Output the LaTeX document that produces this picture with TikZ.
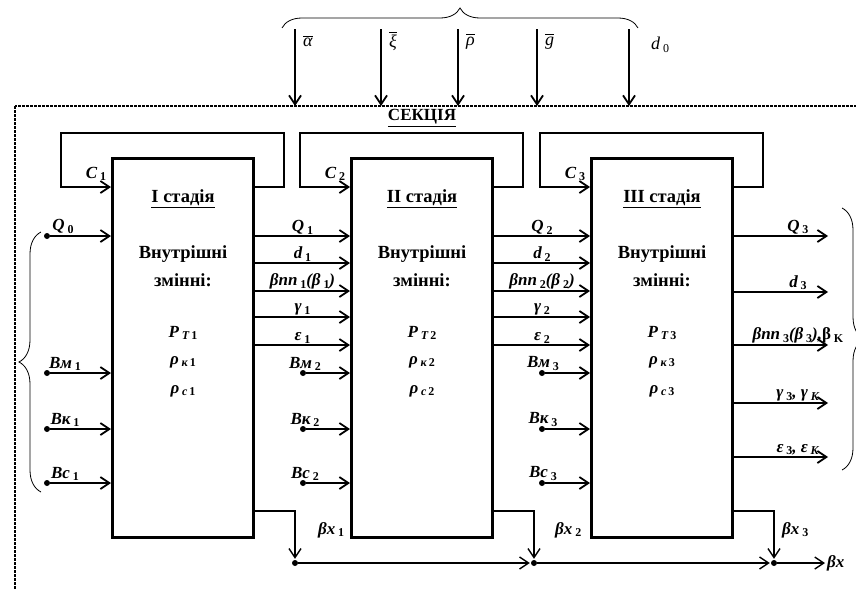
\documentclass[tikz,border=0pt]{standalone}
\usepackage{fontspec}
\setmainfont{Liberation Serif}
\usepackage{amsmath}
\usetikzlibrary{arrows.meta,calc,decorations.pathreplacing}

% small lowered index as in the figure
\newcommand{\lo}[1]{\,\raisebox{-0.35ex}{\fontsize{12}{12}\selectfont\upshape #1}}

\begin{document}
\begin{tikzpicture}
	[x=1pt,y=-1pt,
	 >={Straight Barb[length=9pt,width=12pt]},
	 stage/.style={draw,line width=3pt,minimum width=141pt,minimum height=379pt,inner sep=0pt},
	 conn/.style={->,line width=1.8pt},
	 fb/.style={->,line width=1.8pt},
	 outx/.style={->,line width=1.4pt,shorten >=1pt},
	 lab/.style={font=\fontsize{17}{17}\selectfont\bfseries\itshape,inner sep=1pt},
	 intext/.style={font=\fontsize{18.5}{28}\selectfont\bfseries,align=center},
	 toplab/.style={font=\fontsize{18}{18}\selectfont,anchor=west,inner sep=0pt},
	 brace/.style={decorate,decoration={brace,amplitude=#1},line width=0.8pt},
	 sect/.style={dash pattern=on 3pt off 1pt,line width=1.3pt},
	 junction/.style={circle,fill,inner sep=0pt,minimum size=6pt}]
	\useasboundingbox (0,0) rectangle (856,589);
	\clip (0,0) rectangle (856,589);

	% rows of the connectors
	\foreach \n/\y in {C/187,Q/236,d/263,b/291,g/317,e/345,m/373,k/429,c/483,x/511,s/563}
		\coordinate (r\n) at (0,\y);
	\coordinate (secTL) at (15,106);

	%
	% section frame and external inputs
	%
	\draw[sect] (secTL) rectangle (900,650);
	\node[intext,font=\fontsize{17}{17}\selectfont\bfseries] (sec) at (422,118) {\underline{СЕКЦІЯ}};

	\draw[brace=20pt] (282,28) -- (638,28);
	\foreach \k/\x/\t in {1/295/{$\overline{\mbox{\itshape α}}$},2/381/{$\overline{\mbox{\itshape ξ}}$},
		3/458/{$\overline{\mbox{\itshape ρ}}$},4/537/{$\overline{\mbox{\itshape g}}$}}{
		\coordinate (in\k) at (\x,29);
		\draw[conn] (in\k) -- (in\k |- secTL);
		\node[toplab] at ($(in\k)+(8,12)$) {\t};
	}
	\coordinate (in5) at (629,29);
	\draw[conn] (in5) -- (in5 |- secTL);
	\node[toplab] at ($(in5)+(22,16)$) {\itshape d\lo{0}};

	%
	% stages
	%
	\foreach \i/\cx/\rn in {1/183/I,2/422/II,3/662/III}{
		\node[stage] (st\i) at (\cx,348) {};
		\node[intext] at (\cx,199) {\underline{\rn\ стадія}};
		\node[intext] at (\cx,266) {Внутрішні\\змінні:};
		\node[lab] at (\cx,333) {P\lo{\textit{T}\,\i}};
		\node[lab] at (\cx,362) {ρ\lo{\textit{к}\,\i}};
		\node[lab] at (\cx,391) {ρ\lo{\textit{c}\,\i}};
		% feedback loop
		\draw[fb] (st\i.east |- rC) -- ++(29,0) -- ++(0,-54) -- ++(-223,0) -- ++(0,54) -- (st\i.west |- rC);
		\node[lab] at ($(st\i.west |- rC)+(-15,-13)$) {C\lo{\i}};
	}

	% inputs fed into every stage
	\node[junction] (q0) at ($(47,0)+(rQ)$) {};
	\draw[conn] (q0) -- (st1.west |- q0);
	\node[lab,above] at ($(q0)+(16,-1)$) {Q\lo{0}};
	\foreach \i/\dx/\lx in {1/47/18,2/303/2,3/542/1}{
		\foreach \n/\t in {m/м,k/к,c/с}{
			\node[junction] (\n\i) at ($(\dx,0)+(r\n)$) {};
			\draw[conn] (\n\i) -- (st\i.west |- \n\i);
			\node[lab,above] at ($(\n\i)+(\lx,-1)$) {В\t\lo{\i}};
		}
	}

	% flows from stage to stage
	\foreach \i/\j in {1/2,2/3}{
		\draw[conn] (st\i.east |- rQ) -- (st\j.west |- rQ) node[lab,midway,above] {Q\lo{\i}};
		\draw[conn] (st\i.east |- rd) -- (st\j.west |- rd) node[lab,midway,above] {d\lo{\i}};
		\draw[conn] (st\i.east |- rb) -- (st\j.west |- rb) node[lab,midway,above] {βnn\lo{\i}(β\lo{\i})};
		\draw[conn] (st\i.east |- rg) -- (st\j.west |- rg) node[lab,midway,above] {γ\lo{\i}};
		\draw[conn] (st\i.east |- re) -- (st\j.west |- re) node[lab,midway,above] {ε\lo{\i}};
	}

	% outputs of the last stage
	\foreach \k/\y/\t in {1/236/{Q\lo{3}},2/292/{d\lo{3}},3/345/{βnn\lo{3}(β\lo{3}),\textup{β}\lo{K}},
		4/403/{γ\lo{3}, γ\lo{\textit{K}}},5/457/{ε\lo{3}, ε\lo{\textit{K}}}}{
		\coordinate (o\k) at (828,\y);
		\draw[conn] (st3.east |- o\k) -- (o\k) node[lab,pos=0.68,above] {\t};
	}
	\draw[brace=22pt] (41,492) -- (41,232);
	\draw[brace=22pt] (842,208) -- (842,470);

	%
	% collected output
	%
	\foreach \i/\lx in {1/22,2/20,3/7}{
		\node[junction] (j\i) at ($(st\i.east |- rs)+(40,0)$) {};
		\draw[outx] (st\i.east |- rx) -| (j\i.north);
		\node[lab,anchor=west] at ($(j\i |- rx)+(\lx,19)$) {βx\lo{\i}};
	}
	\node[lab,anchor=west] (bx) at (826,563) {βx};
	\draw[outx] (j1) -- (j2);
	\draw[outx] (j2) -- (j3);
	\draw[outx] (j3) -- (bx);
\end{tikzpicture}
\end{document}
